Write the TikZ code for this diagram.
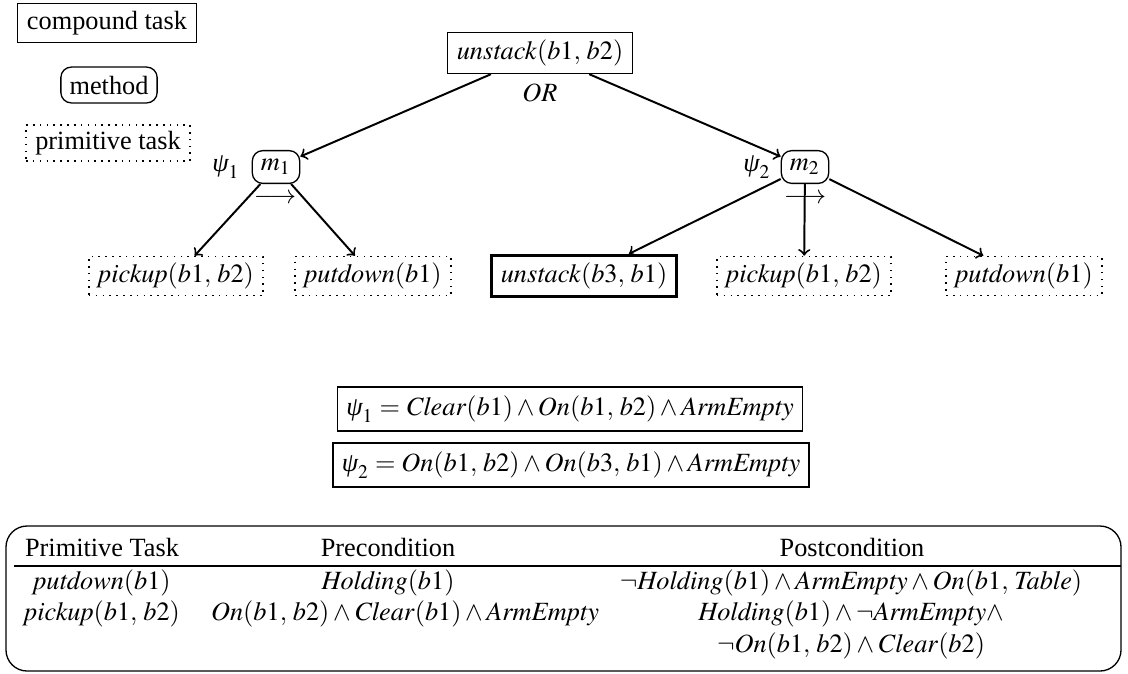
\documentclass[tikz,border=0pt]{standalone}
\usepackage{mathptmx}
\usepackage[no-math]{fontspec}
\setmainfont{Liberation Serif}
\usetikzlibrary{calc}
\newcommand{\pvar}{\mbox{\itshape ψ}}
\begin{document}
\begin{tikzpicture}[x=0.38pt,y=-0.38pt,
  font=\fontsize{10}{12}\selectfont,
  compoundbox/.style={draw, line width=0.5pt, inner xsep=3.5pt, inner ysep=2.8pt},
  methodbox/.style={draw, line width=0.5pt, rounded corners=4pt, inner sep=3.3pt},
  primbox/.style={draw, dotted, line width=0.6pt, inner xsep=3.5pt, inner ysep=2.4pt},
  taskedge/.style={->, line width=0.75pt},
  cell/.style={anchor=base, inner sep=0pt}]
\useasboundingbox (0,0) rectangle (1128,673);

% legend
\node[compoundbox] (lgcompound) at (107,23) {compound task};
\node[methodbox] (lgmethod) at (109,85) {method};
\node[primbox] (lgprim) at (108,143) {primitive task};

% decomposition tree
\node[compoundbox] (top) at (540,53) {$\mathit{unstack}(b1,\,b2)$};
\node (orlabel) at (540,93) {$\mathit{OR}$};

\node[methodbox] (m1) at (276,167) {$m_1$};
\node[methodbox] (m2) at (805,167) {$m_2$};
\node[anchor=east, inner sep=0pt, xshift=-4.3pt] (psi1) at (m1.west) {$\pvar_1$};
\node[anchor=east, inner sep=0pt, xshift=-3.6pt] (psi2) at (m2.west) {$\pvar_2$};
\node (ord1) at (275,199) {$\longrightarrow$};
\node (ord2) at (805,199) {$\longrightarrow$};

\node[primbox] (pk1) at (176,276) {$\mathit{pickup}(b1,\,b2)$};
\node[primbox] (pd1) at (373,276) {$\mathit{putdown}(b1)$};
\node[compoundbox, line width=1.2pt] (us2) at (584,276) {$\mathit{unstack}(b3,\,b1)$};
\node[primbox] (pk2) at (804,276) {$\mathit{pickup}(b1,\,b2)$};
\node[primbox] (pd2) at (1024,276) {$\mathit{putdown}(b1)$};

\draw[taskedge] (top) -- (m1);
\draw[taskedge] (top) -- (m2);
\draw[taskedge] (m1) -- (pk1);
\draw[taskedge] (m1) -- (pd1);
\draw[taskedge] (m2) -- (us2);
\draw[taskedge] (m2) -- (pk2);
\draw[taskedge] (m2) -- (pd2);

% method preconditions
\node[draw, line width=0.5pt] (pre1) at (570,409)
  {$\pvar_1 = \mathit{Clear}(b1) \land \mathit{On}(b1,\,b2) \land \mathit{ArmEmpty}$};
\node[draw, line width=0.5pt] (pre2) at (571,465)
  {$\pvar_2 = \mathit{On}(b1,\,b2) \land \mathit{On}(b3,\,b1) \land \mathit{ArmEmpty}$};

% primitive task table
\draw[line width=0.5pt, rounded corners=8pt] (6,526) rectangle (1121,671);
\draw[line width=1pt] (14,566) -- (1121,566);
\node[cell] (th1) at (102,556) {Primitive Task};
\node[cell] (th2) at (388,556) {Precondition};
\node[cell] (th3) at (852,556) {Postcondition};
\node[cell] (r1c1) at (102,589) {$\mathit{putdown}(b1)$};
\node[cell] (r1c2) at (388,589) {$\mathit{Holding}(b1)$};
\node[cell] (r1c3) at (851,589) {$\neg\mathit{Holding}(b1) \land \mathit{ArmEmpty} \land \mathit{On}(b1,\,\mathit{Table})$};
\node[cell] (r2c1) at (102,620) {$\mathit{pickup}(b1,\,b2)$};
\node[cell] (r2c2) at (405,620) {$\mathit{On}(b1,\,b2) \land \mathit{Clear}(b1) \land \mathit{ArmEmpty}$};
\node[cell] (r2c3) at (851,620) {$\mathit{Holding}(b1) \land \neg\mathit{ArmEmpty}\land$};
\node[cell] (r3c3) at (851,652) {$\neg\mathit{On}(b1,\,b2) \land \mathit{Clear}(b2)$};
\end{tikzpicture}
\end{document}
